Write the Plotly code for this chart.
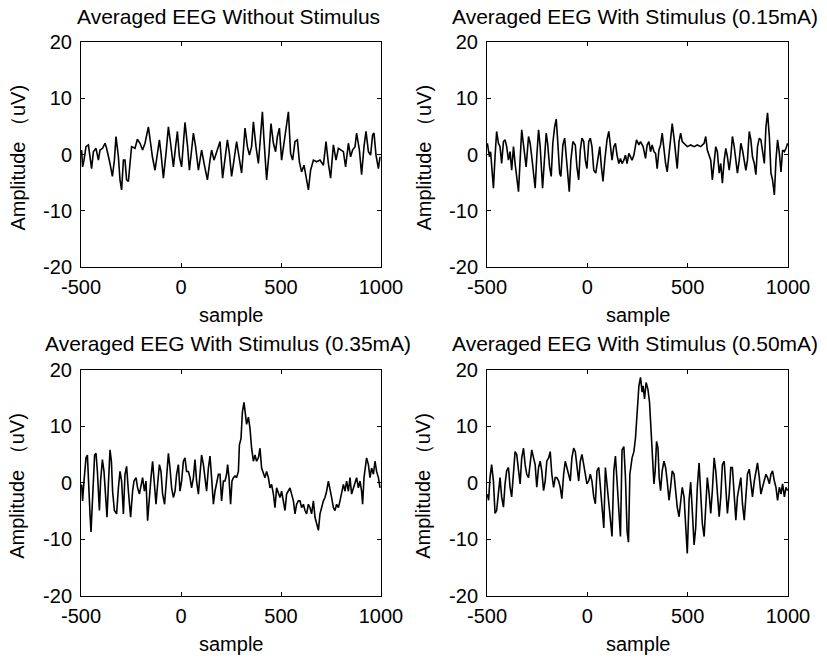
import plotly.graph_objects as go

# ---------------- data ----------------
p1_x = [-497,-492,-485,-475,-463,-447,-438,-425,-413,-405,-392,-380,-372,-363,-355,-343,-333,-325,-313,-305,
        -297,-288,-280,-272,-263,-255,-247,-230,-218,-205,-192,-180,-163,-152,-143,-130,-118,-108,-100,-88,
        -75,-63,-52,-38,-27,-18,-8,3,12,20,33,42,53,62,73,87,95,103,117,132,145,153,165,178,
        195,208,220,232,242,253,265,278,290,303,312,320,332,342,353,362,375,387,395,407,415,428,440,450,462,
        473,482,492,503,512,523,537,548,558,570,582,592,603,615,625,637,648,662,678,695,712,725,737,748,762,
        775,787,798,812,823,837,848,858,870,878,892,903,915,925,937,948,958,965,975,987,995]
p1_y = [0.8,-2.2,-1.0,1.4,1.7,-2.5,0.5,1.1,-1.0,0.8,1.1,2.0,1.1,-0.1,-1.6,-3.9,-1.0,3.2,-0.4,-4.5,
        -6.3,-1.0,-1.0,-4.5,-4.8,-1.6,1.4,1.1,2.7,2.0,0.8,2.0,4.9,2.0,-0.4,-2.8,0.2,2.6,0.2,-4.2,
        0.2,4.9,2.0,-2.2,1.4,4.1,-0.4,-2.2,2.0,5.7,1.4,-2.8,0.8,3.8,1.4,-2.8,-1.0,0.8,-1.9,-4.5,-1.0,0.8,-1.0,0.5,
        2.3,-4.2,-0.4,2.6,0.2,-3.9,-1.0,2.3,-0.4,-3.3,0.8,4.7,1.4,-0.1,1.4,5.8,1.4,-1.6,2.0,7.6,2.6,-4.5,0.2,5.5,2.0,
        0.5,3.2,4.7,-1.0,1.4,3.8,7.6,0.2,-1.0,2.3,2.6,-1.3,-3.1,-1.9,-3.9,-6.3,-2.8,-1.0,-1.3,-1.0,-1.9,2.3,-1.6,-4.2,1.7,
        -1.0,1.1,0.8,0.5,-2.2,2.0,-0.4,0.8,1.4,3.8,0.8,-3.6,1.4,4.1,0.5,-0.1,3.5,3.8,-0.1,-2.5,-0.4]

p2_x = [-498,-488,-482,-477,-468,-460,-452,-443,-435,-427,-418,-410,-402,-393,-385,-377,-368,-360,-352,-343,
        -335,-327,-315,-305,-293,-285,-277,-268,-260,-252,-243,-235,-223,-215,-205,-198,-188,-180,-172,-163,
        -155,-148,-138,-132,-122,-113,-102,-90,-82,-72,-60,-52,-43,-35,-27,-18,-10,-2,7,15,
        23,32,42,52,62,70,78,87,98,107,115,123,132,140,148,157,165,173,182,190,198,207,
        223,232,245,257,265,278,290,298,307,315,323,332,340,348,357,365,373,382,390,398,
        407,415,423,432,440,448,457,465,473,482,498,515,532,548,565,582,590,598,607,615,
        623,632,640,648,657,665,673,682,690,698,707,715,723,732,740,748,757,765,773,782,
        790,798,807,815,823,832,840,848,857,865,873,882,890,898,907,915,923,932,940,948,
        957,965,973,982,990,998]
p2_y = [2.0,-0.4,0.5,-1.6,-6.0,-0.4,4.1,2.0,1.4,-1.6,2.3,2.6,1.4,-1.0,0.5,-2.8,1.4,-1.6,-3.9,-6.6,
        -1.0,4.4,0.8,-2.2,3.2,2.0,-0.4,-3.9,-6.0,-0.4,4.4,1.4,-6.0,-1.6,3.8,2.0,-2.2,-3.9,2.0,4.9,
        6.3,2.6,-3.3,-3.9,1.7,2.9,-1.6,-6.6,-1.0,2.3,1.7,-2.2,-4.5,0.8,2.9,2.3,-1.0,-2.5,2.3,2.9,
        1.4,-2.8,-3.3,-1.0,1.4,-2.2,-4.8,-1.0,2.6,4.1,1.4,-1.0,1.4,2.0,-0.1,-1.6,-0.7,-1.6,-1.0,-0.1,-1.6,0.2,
        -1.0,-0.1,2.6,1.7,2.3,1.4,-0.7,1.7,2.3,0.5,1.7,0.5,0.2,-2.5,0.8,1.7,3.8,0.8,-1.6,-3.1,
        0.5,3.5,5.5,2.9,0.2,-2.5,2.3,3.8,2.3,2.0,1.4,1.7,1.4,1.7,1.4,2.0,3.2,0.8,-0.1,-1.0,
        -4.5,-1.6,1.4,0.5,-3.3,-1.6,-5.1,-1.0,1.1,-0.4,-2.8,-0.4,3.2,1.4,-1.0,-3.3,-1.0,2.0,0.8,-1.0,
        -2.8,-1.0,4.1,2.6,-0.4,-1.6,-3.6,1.4,2.9,2.6,0.8,-1.6,4.9,7.4,3.2,-3.3,-4.5,-7.2,-1.0,2.6,
        0.2,-3.1,0.8,0.5,1.1,2.0]

p3_x = [-497,-492,-485,-475,-468,-462,-455,-450,-443,-438,-432,-425,-418,-408,-402,-393,-385,-377,-370,-363,
        -355,-348,-342,-333,-322,-313,-305,-297,-288,-280,-272,-263,-252,-242,-235,-225,-217,-208,-200,-192,
        -183,-175,-167,-158,-150,-142,-133,-125,-117,-108,-100,-92,-82,-72,-63,-55,-47,-38,-30,-22,
        -13,-5,3,12,20,28,37,45,53,62,70,78,87,95,103,112,120,128,137,145,153,162,170,178,187,
        195,203,212,220,228,233,240,248,255,262,270,278,287,292,300,307,315,322,328,337,
        345,353,362,370,378,387,395,403,412,420,428,437,445,453,462,470,478,487,495,503,
        512,520,528,537,545,553,562,570,578,587,595,603,612,620,628,637,645,653,662,670,
        678,687,695,703,712,720,728,737,745,753,762,770,778,787,795,803,812,820,828,837,
        845,853,862,870,878,887,895,903,908,915,922,928,937,945,953,962,970,978,987,995]
p3_y = [-0.3,-3.2,0.3,4.4,4.9,-1.5,-5.5,-8.7,-4.4,0.3,4.9,5.2,2.0,-4.9,0.3,4.1,2.0,-1.5,-6.1,-0.3,
        5.8,3.8,-1.5,-4.9,-5.5,-0.9,2.0,0.3,-5.5,1.5,2.9,-1.5,-6.1,-1.5,0.3,0.9,-0.9,-2.0,-0.3,0.9,
        -1.5,0.3,-6.7,-2.0,0.9,3.8,0.3,-3.8,-0.3,3.2,2.0,-2.0,-3.8,0.9,5.2,2.6,-0.9,-2.6,-1.5,1.5,
        3.2,-1.5,0.3,3.8,4.4,2.0,2.0,0.9,-0.9,0.9,4.1,0.3,-2.0,1.5,4.9,3.2,0.3,-1.5,2.6,4.7,0.9,-3.8,-1.5,0.3,1.5,
        1.5,-3.2,0.3,0.3,1.5,3.2,0.9,-3.8,0.3,0.9,1.2,0.9,2.0,6.7,7.8,12.5,14.2,11.9,10.3,11.6,
        9.6,6.1,3.8,4.9,3.8,4.4,6.1,2.6,1.5,0.9,2.0,0.9,-0.9,-0.3,-2.0,-4.4,-0.9,-2.0,-2.6,-1.5,
        -3.2,-4.9,-2.0,-1.5,-0.9,-2.0,-3.2,-5.5,-3.8,-3.2,-3.2,-4.4,-3.8,-4.9,-5.5,-3.8,-4.4,-5.5,-3.2,-6.1,
        -7.3,-8.4,-5.5,-4.4,-3.2,-2.6,-1.5,0.3,-0.9,-2.6,-4.4,-4.9,-3.8,-4.4,-3.2,-2.0,-0.3,-1.5,0.3,-1.5,
        0.9,-2.0,-0.9,0.3,0.9,-0.9,0.3,-1.5,-3.8,0.9,2.6,4.4,3.2,0.9,2.6,1.5,3.8,2.0,0.9,-0.9]

p4_x = [-498,-492,-485,-477,-468,-460,-452,-443,-435,-427,-418,-410,-402,-393,-385,-377,-368,-360,-352,-343,
        -335,-327,-318,-310,-302,-293,-285,-277,-268,-260,-252,-243,-235,-227,-218,-210,-202,-193,-185,-177,
        -168,-160,-152,-143,-135,-127,-118,-110,-102,-93,-85,-77,-68,-60,-52,-43,-35,-27,-18,-10,
        -2,7,15,23,32,40,48,57,65,73,82,90,98,107,115,123,132,140,148,157,165,173,182,190,198,205,212,
        223,232,240,245,252,257,265,273,278,285,293,302,310,315,320,325,332,338,345,352,
        358,365,373,382,390,398,407,415,423,432,440,448,457,465,473,482,490,498,507,515,
        523,532,540,548,557,565,573,582,590,598,607,615,623,632,640,648,657,665,673,682,
        690,698,707,715,723,732,740,748,757,765,773,782,790,798,807,815,823,832,840,848,
        857,865,873,882,890,898,907,915,923,932,940,948,957,965,973,982,990,998]
p4_y = [-2.0,-3.1,0.9,3.2,0.3,-5.4,-4.9,-1.4,0.9,-2.5,-4.3,-0.2,2.1,2.7,-0.8,-2.5,2.7,5.5,5.0,1.5,
        -0.2,4.4,6.1,3.2,1.5,0.9,3.2,5.8,4.4,3.2,-0.8,2.7,3.8,2.1,-1.4,0.3,3.8,4.4,5.5,1.5,
        -0.8,0.9,0.9,0.3,-0.8,-2.8,1.5,3.8,2.7,1.5,0.3,4.4,6.1,5.5,3.2,0.3,3.8,5.0,3.2,1.5,
        -0.2,0.3,1.5,0.3,-2.5,-3.7,2.1,2.7,-0.8,-3.7,-8.0,2.7,-0.2,-4.3,-7.2,-9.5,2.1,4.7,0.3,-4.9,-9.5,5.8,6.4,0.9,-8.5,-10.5,1.5,
        4.4,5.5,7.9,11.3,14.8,17.1,18.6,16.0,17.1,14.8,17.7,16.5,14.2,10.8,7.9,3.2,-0.2,2.1,7.3,6.1,
        0.9,-1.4,2.1,3.8,2.7,0.3,-3.1,-0.8,2.1,1.5,-2.0,-4.3,-6.0,-3.7,-0.8,-2.5,-7.2,-12.5,-3.1,0.1,
        -4.9,-11.0,-8.0,-0.8,3.5,-2.5,-7.2,-9.5,-3.7,0.9,-2.0,-5.4,-1.4,4.4,2.1,-2.5,-6.0,-2.5,3.2,3.8,
        -1.4,-5.4,-2.0,2.7,2.7,-1.4,-6.6,-2.5,-0.2,0.9,-3.7,-6.6,-2.5,1.5,2.4,-0.2,-2.5,0.3,2.1,3.5,
        0.9,-2.0,-0.8,0.3,1.5,0.9,-0.2,1.5,2.1,0.3,-0.8,-3.1,-0.8,-2.0,-0.2,-2.5,-0.8,-1.4]

titles = ["Averaged EEG Without Stimulus",
          "Averaged EEG With Stimulus (0.15mA)",
          "Averaged EEG With Stimulus (0.35mA)",
          "Averaged EEG With Stimulus (0.50mA)"]
x_ticks = [-500, 0, 500, 1000]
y_ticks = [-20, -10, 0, 10, 20]
x_label = "sample"
y_label = "Amplitude \uff08uV)"

# ---------------- layout ----------------
W, H = 827, 660
FONT = "Arial, Liberation Sans, sans-serif"
# plot boxes in pixels: (left, right, top, bottom)
boxes = [(81, 381, 42, 267), (487, 788, 42, 267),
         (81, 381, 369.5, 596), (487, 788, 369.5, 596)]
series = [(p1_x, p1_y), (p2_x, p2_y), (p3_x, p3_y), (p4_x, p4_y)]

fig = go.Figure()
annotations = []
layout = dict(width=W, height=H, margin=dict(l=0, r=0, t=0, b=0, autoexpand=False),
              paper_bgcolor="white", plot_bgcolor="white", showlegend=False,
              font=dict(family=FONT, size=20, color="black"))

for i, ((l, r, t, b), (xs, ys)) in enumerate(zip(boxes, series)):
    n = "" if i == 0 else str(i + 1)
    fig.add_trace(go.Scatter(x=xs, y=ys, mode="lines",
                             line=dict(color="black", width=1.6),
                             xaxis="x" + n, yaxis="y" + n, hoverinfo="skip"))
    common = dict(showgrid=False, zeroline=False, showline=True, linecolor="black",
                  linewidth=1, mirror="ticks", ticks="inside", ticklen=4,
                  tickcolor="black", tickwidth=1, automargin=False,
                  tickfont=dict(family=FONT, size=20, color="black"))
    layout["xaxis" + n] = dict(common, domain=[l / W, r / W], range=[-500, 1000],
                               tickvals=x_ticks, ticktext=[str(v) for v in x_ticks],
                               anchor="y" + n, ticklabelstandoff=2)
    layout["yaxis" + n] = dict(common, domain=[1 - b / H, 1 - t / H], range=[-20, 20],
                               tickvals=y_ticks, ticktext=[str(v) for v in y_ticks],
                               anchor="x" + n, ticklabelstandoff=4)
    cx = (l + r) / 2
    annotations.append(dict(text=titles[i], x=(cx - 3) / W, y=1 - (t - 26) / H,
                            xref="paper", yref="paper", showarrow=False,
                            xanchor="center", yanchor="middle",
                            font=dict(family=FONT, size=21, color="black")))
    annotations.append(dict(text=x_label, x=cx / W, y=1 - (b + 48) / H,
                            xref="paper", yref="paper", showarrow=False,
                            xanchor="center", yanchor="middle",
                            font=dict(family=FONT, size=20, color="black")))
    annotations.append(dict(text=y_label, x=(l - 64) / W, y=1 - ((t + b) / 2 + 3) / H,
                            xref="paper", yref="paper", showarrow=False, textangle=-90,
                            xanchor="center", yanchor="middle",
                            font=dict(family=FONT, size=20, color="black")))

layout["annotations"] = annotations
fig.update_layout(**layout)
fig.write_html("out.html")
